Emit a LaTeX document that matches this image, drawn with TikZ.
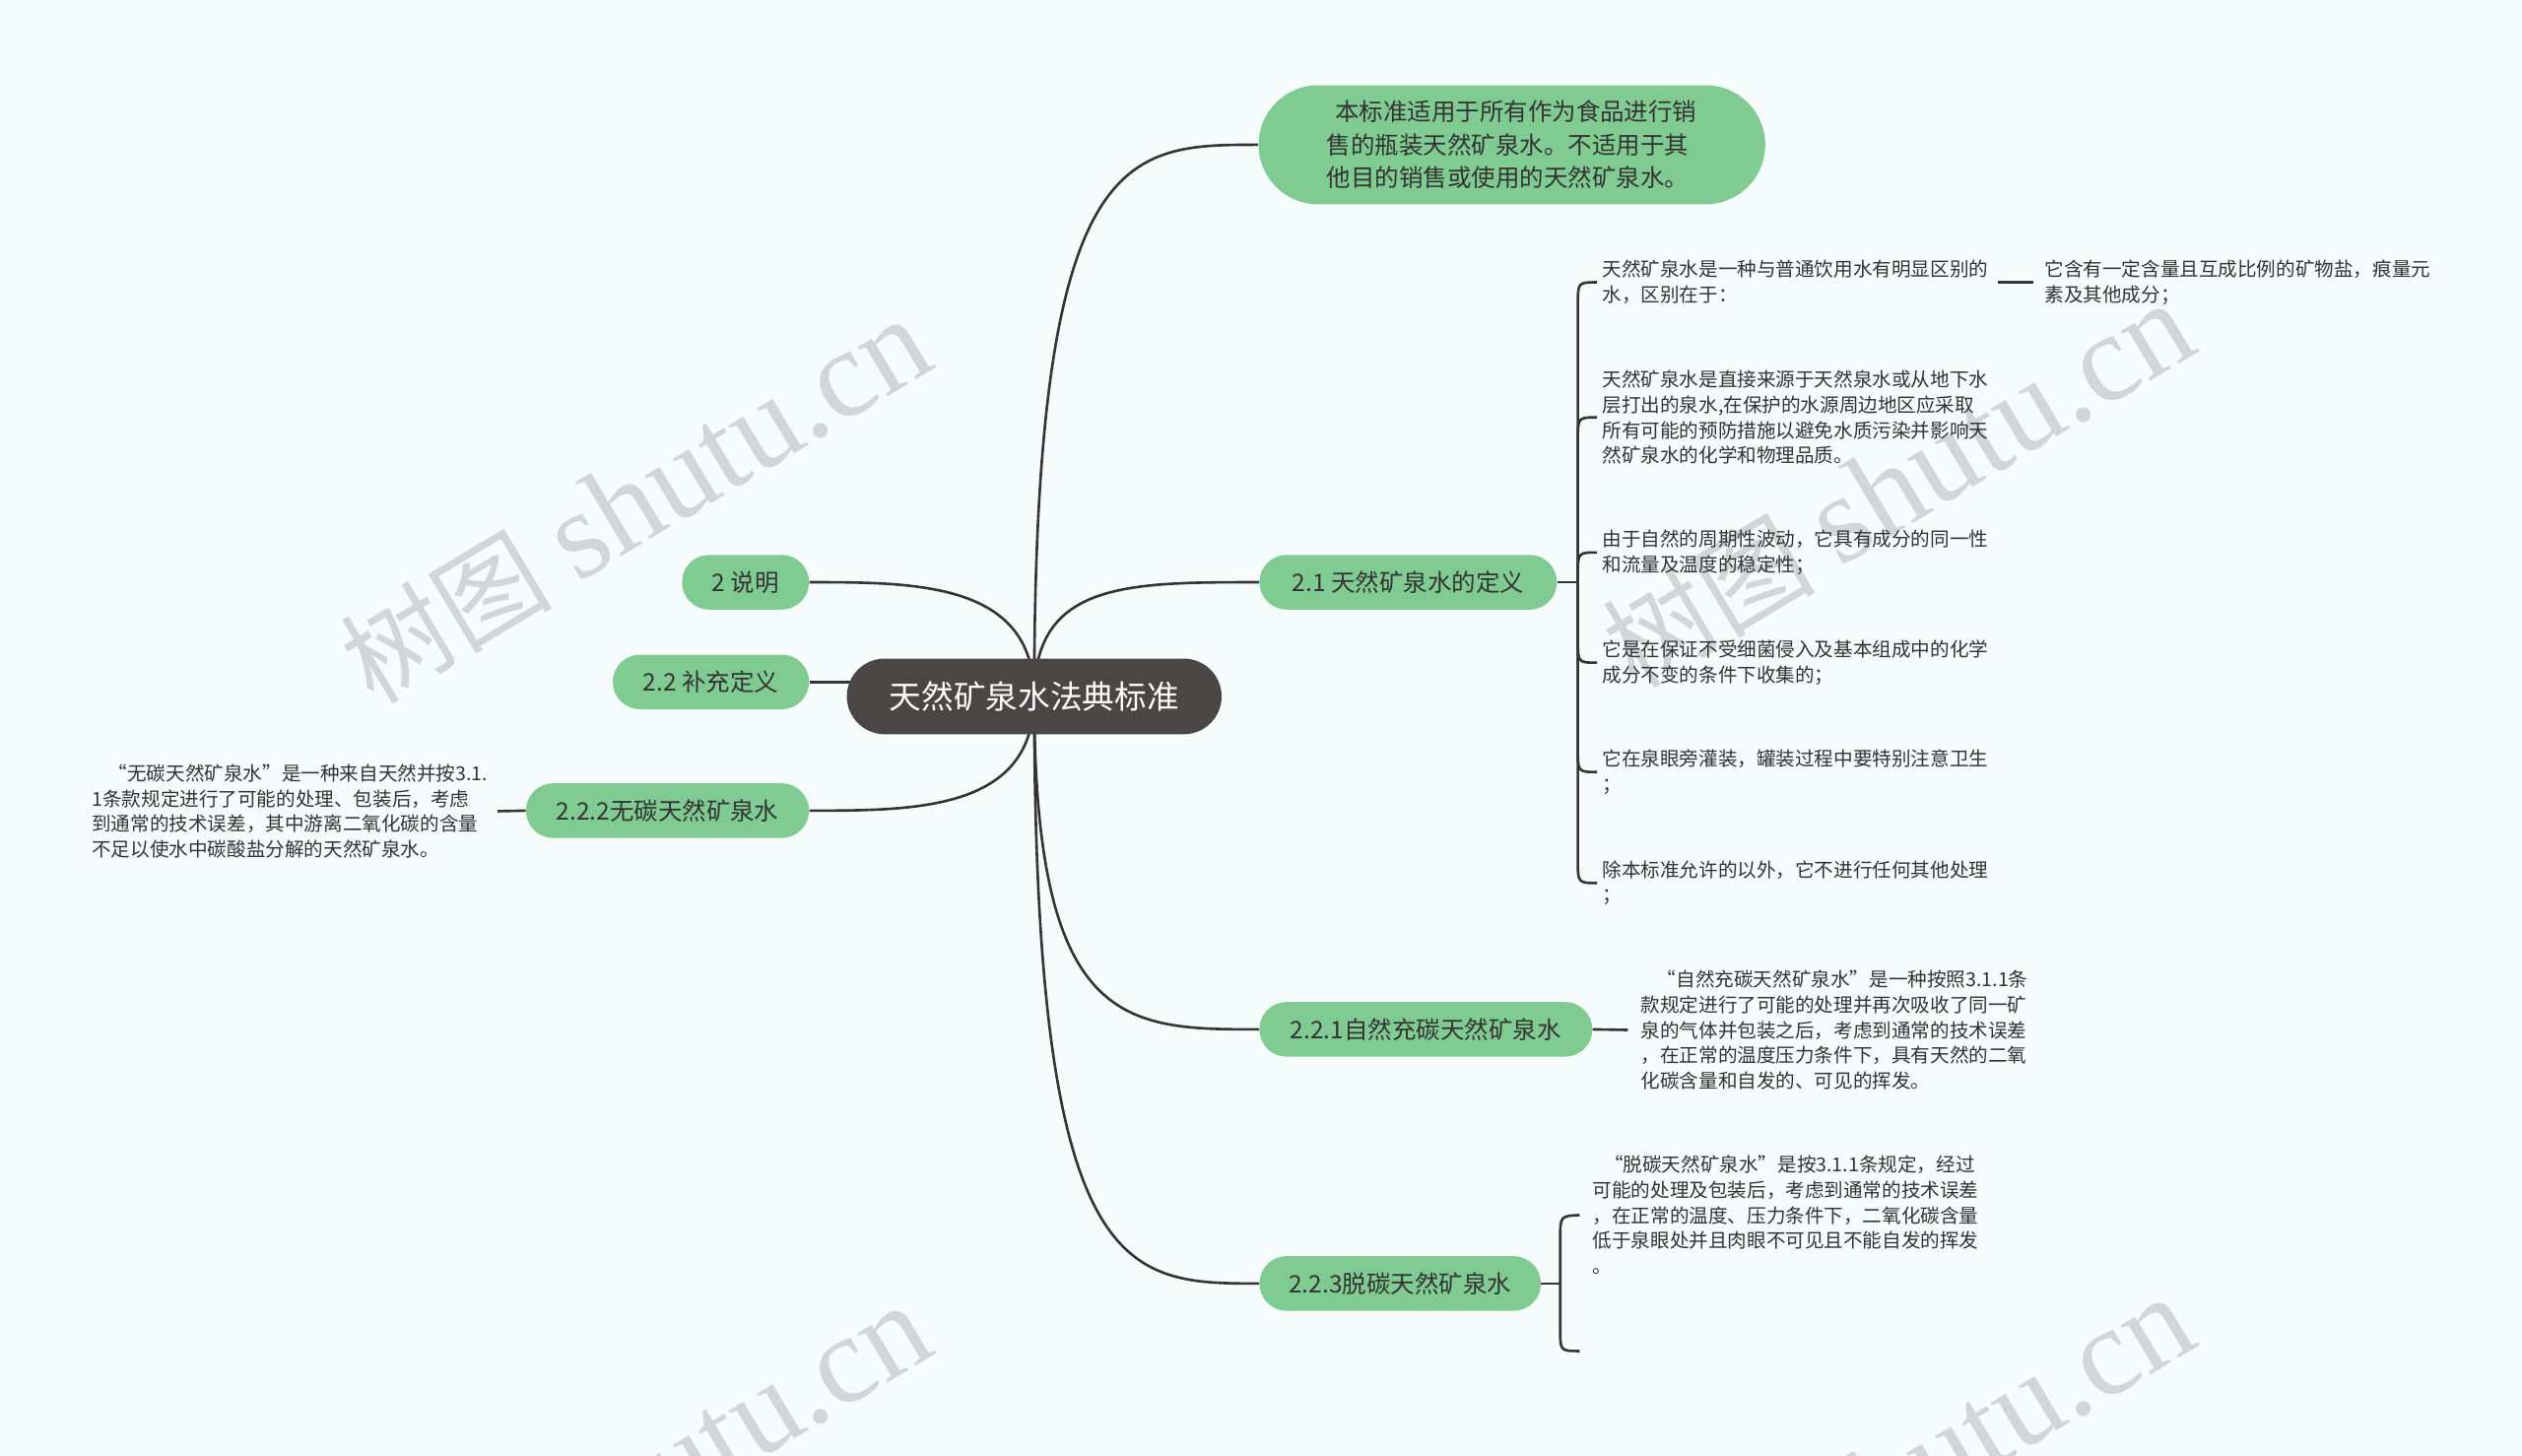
\documentclass[tikz,border=0pt]{standalone}
\usepackage{fontspec}
\newfontfamily\cjk{Noto Sans CJK SC}
\newfontfamily\wmser{Liberation Serif}
\usetikzlibrary{backgrounds}
\definecolor{bgc}{HTML}{F6FBFC}
\definecolor{nodegreen}{HTML}{80CB92}
\definecolor{rootgray}{HTML}{4A4645}
\definecolor{txt}{HTML}{333333}
\definecolor{linec}{HTML}{363333}
\definecolor{wmc}{HTML}{D3D6D6}
\tikzset{
  greennode/.style={fill=nodegreen, text=txt, font=\cjk\fontsize{15}{18}\selectfont, rounded corners=17pt, minimum height=34pt, inner sep=0pt},
  rootnode/.style={fill=rootgray, text=white, font=\cjk\fontsize{20}{24}\selectfont, rounded corners=23.5pt, minimum width=233pt, minimum height=47pt, inner sep=0pt},
  smalltext/.style={font=\cjk\fontsize{12}{15.7}\selectfont, text=txt, align=left, inner sep=0pt},
  conn/.style={draw=linec, line width=1.6pt},
  wmark/.style={text=wmc, rotate=31, inner sep=0pt}
}
\newcommand{\wmtext}{{\cjk\fontsize{66}{70}\selectfont 树图}\hspace{16pt}{\wmser\fontsize{78}{80}\selectfont shutu.cn}}
\begin{document}
\begin{tikzpicture}[x=1pt,y=-1pt]
\useasboundingbox (0,0) rectangle (1568,905);
\begin{pgfonlayer}{background}
\fill[bgc] (0,0) rectangle (1568,905);
\clip (0,0) rectangle (1568,905);
\node[wmark] (wm1) at (395,312) {\wmtext};
\node[wmark] (wm2) at (1180,302) {\wmtext};
\node[wmark] (wm3) at (395,925) {\wmtext};
\node[wmark] (wm4) at (1180,920) {\wmtext};
\end{pgfonlayer}

% root
\node[rootnode] (root) at (643,433) {天然矿泉水法典标准};

% right branches
\node[greennode, rounded corners=37pt, minimum width=315pt, minimum height=74pt, align=left, font=\cjk\fontsize{15}{20.5}\selectfont] (nA) at (940,90)
  {\hspace*{5pt}本标准适用于所有作为食品进行销\\售的瓶装天然矿泉水。不适用于其\\他目的销售或使用的天然矿泉水。};
\node[greennode, minimum width=185pt] (n21) at (875.5,362) {2.1 天然矿泉水的定义};
\node[greennode, minimum width=207pt] (n221) at (886.5,640) {2.2.1自然充碳天然矿泉水};
\node[greennode, minimum width=175pt] (n223) at (870.5,798) {2.2.3脱碳天然矿泉水};

% left branches
\node[greennode, minimum width=79pt] (n2) at (463.5,362) {2 说明};
\node[greennode, minimum width=122pt] (n22) at (442,424) {2.2 补充定义};
\node[greennode, minimum width=176pt] (n222) at (415,504) {2.2.2无碳天然矿泉水};

% children of 2.1
\node[smalltext, anchor=west] (c1) at (996,175.5) {天然矿泉水是一种与普通饮用水有明显区别的\\水，区别在于：};
\node[smalltext, anchor=west] (g1) at (1271,175.5) {它含有一定含量且互成比例的矿物盐，痕量元\\素及其他成分；};
\node[smalltext, anchor=west] (c2) at (996,259.5) {天然矿泉水是直接来源于天然泉水或从地下水\\层打出的泉水,在保护的水源周边地区应采取\\所有可能的预防措施以避免水质污染并影响天\\然矿泉水的化学和物理品质。};
\node[smalltext, anchor=west] (c3) at (996,343.5) {由于自然的周期性波动，它具有成分的同一性\\和流量及温度的稳定性；};
\node[smalltext, anchor=west] (c4) at (996,412) {它是在保证不受细菌侵入及基本组成中的化学\\成分不变的条件下收集的；};
\node[smalltext, anchor=west] (c5) at (996,480) {它在泉眼旁灌装，罐装过程中要特别注意卫生\\；};
\node[smalltext, anchor=west] (c6) at (996,549) {除本标准允许的以外，它不进行任何其他处理\\；};

% text of 2.2.1
\node[smalltext, anchor=west] (t221) at (1020,640.5) {\hspace*{10pt}“自然充碳天然矿泉水”是一种按照3.1.1条\\款规定进行了可能的处理并再次吸收了同一矿\\泉的气体并包装之后，考虑到通常的技术误差\\，在正常的温度压力条件下，具有天然的二氧\\化碳含量和自发的、可见的挥发。};

% text of 2.2.3
\node[smalltext, anchor=west] (t223) at (990,755.5) {\hspace*{7pt}“脱碳天然矿泉水”是按3.1.1条规定，经过\\可能的处理及包装后，考虑到通常的技术误差\\，在正常的温度、压力条件下，二氧化碳含量\\低于泉眼处并且肉眼不可见且不能自发的挥发\\。};

% text of 2.2.2
\node[smalltext, anchor=west] (t222) at (57,504.5) {\hspace*{10pt}“无碳天然矿泉水”是一种来自天然并按3.1.\\1条款规定进行了可能的处理、包装后，考虑\\到通常的技术误差，其中游离二氧化碳的含量\\不足以使水中碳酸盐分解的天然矿泉水。};

\coordinate (j21) at (981,362);
\coordinate (j223) at (970,798);
\coordinate (e223) at (982,840);

\begin{pgfonlayer}{background}
% root connectors
\draw[conn] (root.center) .. controls (643,90) and (700,90) .. (nA.west);
\draw[conn] (root.center) .. controls (643,362) and (700,362) .. (n21.west);
\draw[conn] (root.center) .. controls (643,640) and (700,640) .. (n221.west);
\draw[conn] (root.center) .. controls (643,798) and (700,798) .. (n223.west);
\draw[conn] (root.center) .. controls (643,362) and (570,362) .. (n2.east);
\draw[conn] (root.center) -- (root.center |- n22.east) -- (n22.east);
\draw[conn] (root.center) .. controls (643,504) and (570,504) .. (n222.east);
\end{pgfonlayer}

% 2.1 bracket
\draw[conn] (n21.east) -- (j21);
\draw[conn] (j21) -- (981,189.5) .. controls (981,175.5) .. ([xshift=-3pt]c1.west);
\draw[conn] (j21) -- (981,273.5) .. controls (981,259.5) .. ([xshift=-3pt]c2.west);
\draw[conn] (j21) -- (981,357.5) .. controls (981,343.5) .. ([xshift=-3pt]c3.west);
\draw[conn] (j21) -- (981,398) .. controls (981,412) .. ([xshift=-3pt]c4.west);
\draw[conn] (j21) -- (981,466) .. controls (981,480) .. ([xshift=-3pt]c5.west);
\draw[conn] (j21) -- (981,535) .. controls (981,549) .. ([xshift=-3pt]c6.west);
\draw[conn, shorten <=6pt, shorten >=7pt] (c1.east) -- (g1.west);

% 2.2.1
\draw[conn, shorten >=8pt] (n221.east) -- (t221.west);

% 2.2.3 bracket
\draw[conn] (n223.east) -- (j223);
\draw[conn] (j223) -- (970,771) .. controls (970,756) .. ([xshift=-8pt]t223.west);
\draw[conn] (j223) -- (970,826) .. controls (970,840) .. (e223);

% 2.2.2
\draw[conn, shorten <=6pt] (t222.east) -- (n222.west);
\end{tikzpicture}
\end{document}
